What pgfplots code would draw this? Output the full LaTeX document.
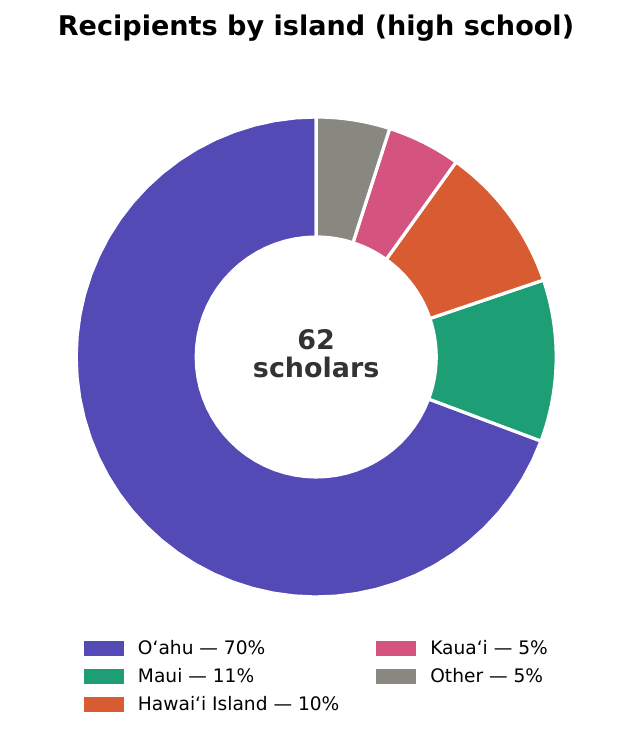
\documentclass[border=0pt]{standalone}
\usepackage{pgfplots}
\pgfplotsset{compat=1.18}
\usepackage{pgfplotstable}
\usepackage{fontspec}
\setmainfont{DejaVu Sans}

\definecolor{oahu}{HTML}{534AB6}
\definecolor{maui}{HTML}{1E9E75}
\definecolor{hawaii}{HTML}{D95B32}
\definecolor{kauai}{HTML}{D5537F}
\definecolor{other}{HTML}{888880}
\definecolor{centertext}{HTML}{333333}

% share of recipients, in percent
\pgfplotstableread{
island share
Oahu   70
Maui   11
Hawaii 10
Kauai  5
Other  5
}\islands

\begin{document}
\begin{tikzpicture}[x=1pt,y=1pt]
\path[use as bounding box] (0,0) rectangle (455.76,530.64);

% wedge angles, counterclockwise from the top
\pgfplotstablegetelem{0}{share}\of\islands \let\sA\pgfplotsretval
\pgfplotstablegetelem{1}{share}\of\islands \let\sB\pgfplotsretval
\pgfplotstablegetelem{2}{share}\of\islands \let\sC\pgfplotsretval
\pgfplotstablegetelem{3}{share}\of\islands \let\sD\pgfplotsretval
\pgfplotstablegetelem{4}{share}\of\islands \let\sE\pgfplotsretval
\pgfmathsetmacro{\tot}{\sA+\sB+\sC+\sD+\sE}
\pgfmathsetmacro{\aA}{90}
\pgfmathsetmacro{\aB}{\aA+360*(\sA/\tot)}
\pgfmathsetmacro{\aC}{\aB+360*(\sB/\tot)}
\pgfmathsetmacro{\aD}{\aC+360*(\sC/\tot)}
\pgfmathsetmacro{\aE}{\aD+360*(\sD/\tot)}
\pgfmathsetmacro{\aF}{\aE+360*(\sE/\tot)}

\node[anchor=base, font=\fontsize{19.5}{23}\selectfont\bfseries]
  at (227.5,505.1) {Recipients by island (high school)};

\begin{axis}[
  at={(227.66pt,273.6pt)}, anchor=center,
  scale only axis, width=345.6pt, height=345.6pt,
  xmin=-1, xmax=1, ymin=-1, ymax=1,
  hide axis, clip=false,
  % ring outline: outer arc, edge in, inner arc back, edge out
  declare function={
    wr(\t)=(\t<=2) ? min(1,1.5-0.5*\t) : max(0.5,min(1,0.5*\t-1));
    wf(\t)=max(0,min(\t,1,3-\t));
  },
  every axis plot/.append style={draw=white, line width=2.3pt,
    domain=0:4, samples=201, variable=\t},
  legend image code/.code={\fill[#1, draw=none] (0pt,-5.4pt) rectangle (28.8pt,5.4pt);},
  legend cell align=left,
  legend columns=3, transpose legend,
  legend style={
    at={(0.01625,-0.0896)}, anchor=north west,
    draw=none, fill=none, inner sep=0pt, outer sep=0pt,
    font=\fontsize{13.4}{16}\selectfont,
    row sep=8.6pt,
    nodes={inner sep=0pt},
    /tikz/every odd column/.append style={column sep=10.08pt},
    /tikz/every even column/.append style={column sep=26.6pt},
  },
]
\addplot[fill=oahu]   ({wr(\t)*cos(\aA+(\aB-\aA)*wf(\t))}, {wr(\t)*sin(\aA+(\aB-\aA)*wf(\t))});
\addlegendentry{Oʻahu — 70\%}
\addplot[fill=maui]   ({wr(\t)*cos(\aB+(\aC-\aB)*wf(\t))}, {wr(\t)*sin(\aB+(\aC-\aB)*wf(\t))});
\addlegendentry{Maui — 11\%}
\addplot[fill=hawaii] ({wr(\t)*cos(\aC+(\aD-\aC)*wf(\t))}, {wr(\t)*sin(\aC+(\aD-\aC)*wf(\t))});
\addlegendentry{Hawaiʻi Island — 10\%}
\addplot[fill=kauai]  ({wr(\t)*cos(\aD+(\aE-\aD)*wf(\t))}, {wr(\t)*sin(\aD+(\aE-\aD)*wf(\t))});
\addlegendentry{Kauaʻi — 5\%}
\addplot[fill=other]  ({wr(\t)*cos(\aE+(\aF-\aE)*wf(\t))}, {wr(\t)*sin(\aE+(\aF-\aE)*wf(\t))});
\addlegendentry{Other — 5\%}
\end{axis}

\node[anchor=base, text=centertext, font=\fontsize{19.4}{19.7}\selectfont\bfseries]
  at (227.66,278.64) {62};
\node[anchor=base, text=centertext, font=\fontsize{19.4}{19.7}\selectfont\bfseries]
  at (227.66,259.0) {scholars};
\end{tikzpicture}
\end{document}
